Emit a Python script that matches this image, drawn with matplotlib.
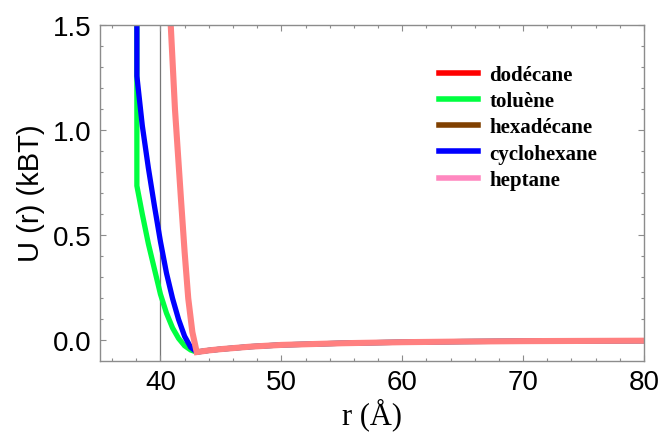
import matplotlib
matplotlib.use("Agg")
import matplotlib.pyplot as plt
from matplotlib.lines import Line2D
from matplotlib.ticker import MultipleLocator

# ---- data ----
labels = ["dodécane", "toluène", "hexadécane", "cyclohexane", "heptane"]
legend_colors = ["#ff0000", "#00ff40", "#804000", "#0000ff", "#ff88c0"]
line_colors = ["#ff0000", "#00ff40", "#804000", "#0000ff", "#ff8080"]

# shared attractive tail (r in Å, U in kBT)
r_tail = [43.0, 44.0, 45.0, 47.5, 50.0, 55.0, 60.0, 65.0, 70.0, 75.0, 80.0]
u_tail = [-0.055, -0.047, -0.041, -0.029, -0.021, -0.013, -0.008, -0.005, -0.003, -0.002, -0.001]

# repulsive branches
r_dodecane = [40.78, 40.85, 41.2, 41.7, 42.0, 42.3, 42.64]
u_dodecane = [1.6, 1.5, 1.1, 0.67, 0.42, 0.2, 0.04]

r_toluene = [38.05, 38.05, 38.5, 39.0, 39.5, 40.0, 40.5, 41.0, 41.5, 42.0, 42.5]
u_toluene = [1.6, 0.735, 0.60, 0.46, 0.34, 0.22, 0.13, 0.06, 0.01, -0.025, -0.045]

r_hexadecane = [40.78, 40.85, 41.2, 41.7, 42.0, 42.3, 42.64]
u_hexadecane = [1.6, 1.5, 1.1, 0.67, 0.42, 0.2, 0.04]

r_cyclohexane = [38.05, 38.05, 38.5, 39.0, 39.5, 40.0, 40.5, 41.0, 41.5, 42.0, 42.5]
u_cyclohexane = [1.6, 1.256, 1.02, 0.82, 0.64, 0.47, 0.32, 0.20, 0.10, 0.02, -0.032]

r_heptane = [40.78, 40.85, 41.2, 41.7, 42.0, 42.3, 42.64]
u_heptane = [1.6, 1.5, 1.1, 0.67, 0.42, 0.2, 0.04]

series_r = [r_dodecane, r_toluene, r_hexadecane, r_cyclohexane, r_heptane]
series_u = [u_dodecane, u_toluene, u_hexadecane, u_cyclohexane, u_heptane]

x_ticks = [40, 50, 60, 70, 80]
y_ticks = [0.0, 0.5, 1.0, 1.5]

# ---- figure ----
fig = plt.figure(figsize=(6.64, 4.39), dpi=100)
ax = fig.add_axes([100 / 664, 1 - 361.5 / 439, 544 / 664, (361.5 - 25.7) / 439])

ax.axvline(40, color="#777777", lw=0.9, zorder=1)

widths = [2.5, 3.8, 2.5, 3.8, 4.4]
for r, u, c, w in zip(series_r, series_u, line_colors, widths):
    ax.plot(list(r) + r_tail, list(u) + u_tail, color=c, lw=w,
            solid_joinstyle="miter", zorder=2)

ax.set_xlim(35, 80)
ax.set_ylim(-0.095, 1.5)
ax.set_xticks(x_ticks)
ax.set_yticks(y_ticks)
ax.set_xticklabels([str(v) for v in x_ticks])
ax.set_yticklabels([f"{v:.1f}" for v in y_ticks])
ax.xaxis.set_minor_locator(MultipleLocator(2))
ax.yaxis.set_minor_locator(MultipleLocator(0.1))

for s in ax.spines.values():
    s.set_color("#8c8c8c")
    s.set_linewidth(1.0)

ax.tick_params(which="both", direction="in", top=True, right=True,
               color="#8c8c8c", width=0.8)
ax.tick_params(which="major", length=4.0, labelsize=20, pad=6)
ax.tick_params(which="minor", length=2.2)
for lab in ax.get_xticklabels() + ax.get_yticklabels():
    lab.set_family("Liberation Sans")

ax.set_ylabel("U (r) (kBT)", family="Liberation Sans", fontsize=21, labelpad=6)
ax.set_xlabel("r (Å)", family="Liberation Serif", fontsize=22, labelpad=2)

handles = [Line2D([0], [0], color=c, lw=4) for c in legend_colors]
leg = ax.legend(handles, labels, loc="upper left", bbox_to_anchor=(0.607, 0.905),
                frameon=False, handlelength=1.9, handletextpad=0.55,
                labelspacing=0.3, borderaxespad=0,
                prop={"family": "Liberation Serif", "weight": "bold", "size": 15})

fig.savefig("out.png", dpi=100)
